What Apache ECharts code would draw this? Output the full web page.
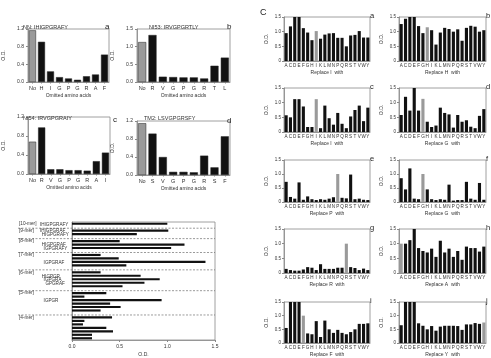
<!DOCTYPE html>
<html>
<head>
<meta charset="utf-8">
<script src="https://cdn.jsdelivr.net/npm/echarts@6/dist/echarts.min.js"></script>
<style>
  html, body { margin: 0; padding: 0; background: #fff; }
  #main { width: 491px; height: 358px; }
</style>
</head>
<body>
<div id="main"></div>
<script>
// ---- panels a-d : omitted amino acids ----
const omitTitles = ['NN: IHIGPGRAFY', 'NI53: IRVGPGRTLY', 'NI54: IRVGPGRAIY', 'TM2: LSVGPGRSFY'];
const omitLetters = ['a', 'b', 'c', 'd'];
const omitCats = [
  ['No', 'H', 'I', 'G', 'P', 'G', 'R', 'A', 'F'],
  ['No', 'R', 'V', 'G', 'P', 'G', 'R', 'T', 'L'],
  ['No', 'R', 'V', 'G', 'P', 'G', 'R', 'A', 'I'],
  ['No', 'S', 'V', 'G', 'P', 'G', 'R', 'S', 'F']
];
const omitVals = [
  [1.17, 0.91, 0.24, 0.11, 0.08, 0.05, 0.13, 0.17, 0.62],
  [1.13, 1.33, 0.15, 0.14, 0.13, 0.13, 0.10, 0.46, 0.69],
  [0.68, 0.98, 0.10, 0.10, 0.08, 0.08, 0.07, 0.27, 0.45],
  [1.15, 0.92, 0.40, 0.07, 0.07, 0.06, 0.43, 0.17, 0.86]
];
const omitMax = [1.2, 1.5, 1.2, 1.2];
const omitStep = [0.4, 0.5, 0.4, 0.4];

// ---- truncated peptides (horizontal bars) ----
const merGroups = ['[10-mer]', '[9-mer]', '[8-mer]', '[7-mer]', '[6-mer]', '[5-mer]', '[4-mer]'];
const merVals = [
  [1.00],
  [1.01, 0.68],
  [0.50, 1.18, 1.04],
  [0.30, 0.49, 1.40, 0.57],
  [0.30, 0.72, 0.92, 0.76, 0.53],
  [0.36, 0.13, 0.94, 0.40, 0.51, 0.30],
  [0.42, 0.13, 0.115, 0.36, 0.43, 0.21, 0.21]
];
const merSeqs = [
  ['IHIGPGRAFY'],
  ['IHIGPGRAF', 'HIGPGRAFY'],
  ['', 'HIGPGRAF', 'IGPGRAFY'],
  ['', '', 'IGPGRAF', ''],
  ['', 'HIGPGR', 'IGPGRA', 'GPGRAF', ''],
  ['', '', 'IGPGR', '', '', ''],
  ['', '', '', '', '', '', '']
];
const parentSeq = 'IHIGPGRAFY';
const odTicks = ['0.0', '0.5', '1.0', '1.5'];

// ---- panel C : substitutions ----
const aminoCats = ['A','C','D','E','F','G','H','I','K','L','M','N','P','Q','R','S','T','V','W','Y'];
const replLetters = ['a','b','c','d','e','f','g','h','i','j'];
const replaced = ['I','H','I','G','P','G','R','A','F','Y'];
const replVals = [
  [0.95,1.18,1.5,1.5,1.12,0.97,0.71,1.02,0.76,0.90,0.94,0.95,0.79,0.79,0.50,0.87,0.89,1.02,0.80,0.80],
  [1.26,1.44,1.5,1.5,1.19,0.95,1.15,1.05,0.56,0.97,1.13,1.09,1.00,1.08,0.69,1.13,1.20,1.17,1.00,1.05],
  [0.57,0.50,1.12,1.12,0.87,0.17,0.17,1.12,0.13,0.90,0.47,0.25,0.65,0.28,0.13,0.53,0.75,0.90,0.37,0.83],
  [0.58,1.20,0.73,1.5,0.73,1.13,0.35,0.17,0.22,0.83,0.65,0.60,0.15,0.58,0.35,0.40,0.18,0.13,0.55,0.78],
  [0.72,0.18,0.12,0.70,0.08,0.20,0.10,0.07,0.10,0.08,0.12,0.17,1.00,0.15,0.13,0.98,0.10,0.12,0.08,0.07],
  [0.85,0.45,1.20,0.12,0.10,1.00,0.45,0.10,0.07,0.10,0.08,0.62,0.05,0.07,0.07,0.72,0.12,0.08,0.68,0.08],
  [0.14,0.10,0.08,0.08,0.12,0.20,0.18,0.10,0.30,0.14,0.14,0.14,0.18,0.18,1.00,0.20,0.17,0.10,0.15,0.10],
  [1.00,1.00,1.12,1.5,0.85,0.75,0.70,0.83,0.55,1.10,0.70,0.83,0.55,0.75,0.45,0.90,0.85,0.85,0.73,0.90],
  [0.55,1.5,1.5,1.5,1.00,0.35,0.32,0.80,0.22,0.82,0.50,0.37,0.48,0.37,0.32,0.40,0.50,0.70,0.70,0.72],
  [0.65,1.5,1.5,1.5,0.72,0.63,0.50,0.62,0.45,0.60,0.63,0.63,0.63,0.62,0.48,0.68,0.68,0.73,0.70,0.75]
];

// layout
const FONT = 'Liberation Sans, Arial, sans-serif';
const TXT = '#333';
const BLACK = '#111';
const GRAY = '#9a9a9a';
const FRAME = '#888';
const omitBox = [[27, 29, 82, 53], [137, 29, 93, 53], [27, 117, 83, 57], [137, 121, 93, 54]];
const omitTitlePos = [[18, 19], [144, 19], [18, 110], [139, 110]];
const omitLetterPos = [[100, 18], [222, 18], [108, 111], [222, 112]];
const colX = [284, 399];
const colW = [86, 87];
const rowBox = [[17, 44], [88, 44], [160, 42], [229, 44], [302, 42]];

const grids = [], xAxes = [], yAxes = [], series = [], titles = [];

function frameGrid(l, t, w, h) {
  grids.push({ left: l, top: t, width: w, height: h, show: true, borderColor: FRAME, borderWidth: 0.8, containLabel: false });
  return grids.length - 1;
}

// a-d
omitCats.forEach(function (cats, i) {
  const b = omitBox[i];
  const gi = frameGrid(b[0], b[1], b[2], b[3]);
  xAxes.push({
    type: 'category', gridIndex: gi, data: cats,
    name: 'Omitted amino acids', nameLocation: 'middle', nameGap: 11,
    nameTextStyle: { fontSize: 5, color: TXT, fontFamily: FONT },
    axisLine: { lineStyle: { color: FRAME, width: 0.8 } },
    axisTick: { show: true, alignWithLabel: true, length: 1.5, lineStyle: { color: FRAME } },
    axisLabel: { interval: 0, fontSize: 5.5, margin: 3, color: TXT, fontFamily: FONT }
  });
  yAxes.push({
    type: 'value', gridIndex: gi, min: 0, max: omitMax[i], interval: omitStep[i],
    name: 'O.D.', nameLocation: 'middle', nameGap: 22, nameRotate: 90,
    nameTextStyle: { fontSize: 5, color: TXT, fontFamily: FONT },
    splitLine: { show: false },
    axisLine: { show: true, lineStyle: { color: FRAME, width: 0.8 } },
    axisTick: { show: true, length: 2, lineStyle: { color: FRAME } },
    axisLabel: { fontSize: 5, margin: 4, color: TXT, fontFamily: FONT, formatter: function (v) { return v.toFixed(1); } }
  });
  series.push({
    type: 'bar', xAxisIndex: gi, yAxisIndex: gi, barCategoryGap: '22%',
    data: omitVals[i].map(function (v, k) {
      return { value: v, itemStyle: { color: k === 0 ? GRAY : BLACK, borderColor: '#222', borderWidth: 0.5 } };
    })
  });
  titles.push({ text: omitTitles[i], left: omitTitlePos[i][0], top: omitTitlePos[i][1],
    textStyle: { fontSize: 5.5, fontWeight: 'normal', color: TXT, fontFamily: FONT } });
  titles.push({ text: omitLetters[i], left: omitLetterPos[i][0], top: omitLetterPos[i][1],
    textStyle: { fontSize: 8, fontWeight: 'normal', color: '#222', fontFamily: FONT } });
});

// horizontal truncation chart
const slotVals = [], slotSeq = [], groupFirst = [], sepSlots = [];
merVals.forEach(function (grp, gidx) {
  grp.forEach(function (v, k) {
    if (k === 0) groupFirst.push(slotVals.length);
    slotVals.push(v);
    slotSeq.push(merSeqs[gidx][k]);
  });
  if (gidx < merVals.length - 1) { sepSlots.push(slotVals.length); slotVals.push('-'); slotSeq.push(''); }
});
const hIdx = frameGrid(72, 222, 143, 120);
xAxes.push({
  type: 'value', gridIndex: hIdx, min: 0, max: 1.5, interval: 0.5,
  name: 'O.D.', nameLocation: 'middle', nameGap: 12,
  nameTextStyle: { fontSize: 5, color: TXT, fontFamily: FONT },
  splitLine: { show: false },
  axisLine: { show: true, lineStyle: { color: FRAME, width: 0.8 } },
  axisTick: { show: true, length: 2, lineStyle: { color: FRAME } },
  axisLabel: { fontSize: 5, margin: 4, color: TXT, fontFamily: FONT, formatter: function (v) { return odTicks[Math.round(v / 0.5)]; } }
});
yAxes.push({
  type: 'category', gridIndex: hIdx, inverse: true, data: slotVals.map(function (v, k) { return 's' + k; }),
  axisLine: { show: true, lineStyle: { color: FRAME, width: 0.8 } },
  axisTick: { show: false }, axisLabel: { show: false }
});
series.push({
  type: 'bar', xAxisIndex: hIdx, yAxisIndex: hIdx, barCategoryGap: '38%',
  itemStyle: { color: BLACK }, data: slotVals
});

// panel C
titles.push({ text: 'C', left: 255, top: 3, textStyle: { fontSize: 9, fontWeight: 'normal', color: '#222', fontFamily: FONT } });
replVals.forEach(function (vals, i) {
  const col = i % 2, row = Math.floor(i / 2);
  const gi = frameGrid(colX[col], rowBox[row][0], colW[col], rowBox[row][1]);
  xAxes.push({
    type: 'category', gridIndex: gi, data: aminoCats,
    name: 'Replace ' + replaced[i] + '  with', nameLocation: 'middle', nameGap: 9,
    nameTextStyle: { fontSize: 5, color: TXT, fontFamily: FONT },
    axisLine: { lineStyle: { color: FRAME, width: 0.8 } },
    axisTick: { show: false },
    axisLabel: { interval: 0, fontSize: 4.6, margin: 2.5, color: TXT, fontFamily: FONT }
  });
  yAxes.push({
    type: 'value', gridIndex: gi, min: 0, max: 1.5, interval: 0.5,
    name: 'O.D.', nameLocation: 'middle', nameGap: 15, nameRotate: 90,
    nameTextStyle: { fontSize: 5, color: TXT, fontFamily: FONT },
    splitLine: { show: false },
    axisLine: { show: true, lineStyle: { color: FRAME, width: 0.8 } },
    axisTick: { show: true, length: 2, lineStyle: { color: FRAME } },
    axisLabel: { fontSize: 4.5, margin: 3, color: TXT, fontFamily: FONT, formatter: function (v) { return v === 0 ? '0' : v.toFixed(1); } }
  });
  series.push({
    type: 'bar', xAxisIndex: gi, yAxisIndex: gi, barCategoryGap: '28%', clip: true,
    data: vals.map(function (v, k) {
      return { value: v, itemStyle: { color: aminoCats[k] === replaced[i] ? GRAY : BLACK } };
    })
  });
  titles.push({ text: replLetters[i], left: colX[col] + colW[col] - 5, top: rowBox[row][0] - 10,
    textStyle: { fontSize: 7.5, fontWeight: 'normal', color: '#222', fontFamily: FONT } });
});

const option = {
  backgroundColor: '#fff',
  animation: false,
  title: titles,
  grid: grids,
  xAxis: xAxes,
  yAxis: yAxes,
  series: series
};

const chart = echarts.init(document.getElementById('main'));
chart.setOption(option);

// separators and peptide labels placed through the category axis
const gfx = [];
const hRight = chart.convertToPixel({ xAxisIndex: hIdx }, 1.5);
sepSlots.forEach(function (s) {
  const y = chart.convertToPixel({ yAxisIndex: hIdx }, s) + 1;
  gfx.push({ type: 'line', shape: { x1: 18, y1: y, x2: hRight, y2: y },
    style: { stroke: '#555', lineWidth: 0.6, lineDash: [2, 1.5] }, z: 10 });
});
groupFirst.forEach(function (s, k) {
  const y = chart.convertToPixel({ yAxisIndex: hIdx }, s);
  gfx.push({ type: 'text', x: 19, y: y, style: { text: merGroups[k], fontSize: 4.7, fontFamily: FONT, fill: TXT, verticalAlign: 'middle' } });
});
slotSeq.forEach(function (seq, s) {
  if (!seq) return;
  const y = chart.convertToPixel({ yAxisIndex: hIdx }, s);
  const x = 40 + parentSeq.indexOf(seq) * 1.8;
  gfx.push({ type: 'text', x: x, y: y + 0.5, style: { text: seq, fontSize: 4.6, fontFamily: FONT, fill: TXT, verticalAlign: 'middle' } });
});
chart.setOption({ graphic: gfx });
</script>
</body>
</html>
